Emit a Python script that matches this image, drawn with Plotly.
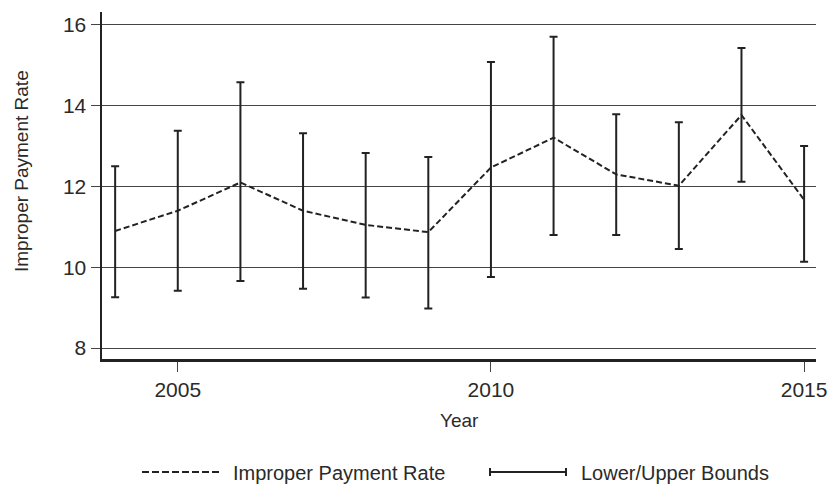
import plotly.graph_objects as go

years = [2004, 2005, 2006, 2007, 2008, 2009, 2010, 2011, 2012, 2013, 2014, 2015]
rate = [10.90, 11.40, 12.10, 11.40, 11.05, 10.87, 12.47, 13.21, 12.30, 12.02, 13.77, 11.67]
upper = [12.50, 13.38, 14.58, 13.32, 12.83, 12.73, 15.08, 15.71, 13.79, 13.59, 15.43, 13.00]
lower = [9.26, 9.42, 9.66, 9.47, 9.25, 8.98, 9.76, 10.80, 10.80, 10.45, 12.12, 10.14]

x_ticks = [2005, 2010, 2015]
y_ticks = [8, 10, 12, 14, 16]

FONT = "Liberation Sans, Arial, sans-serif"
INK = "#222222"
TXT = "#2a2a2a"

err_plus = [u - r for u, r in zip(upper, rate)]
err_minus = [r - l for r, l in zip(rate, lower)]

fig = go.Figure()
fig.add_trace(go.Scatter(
    x=years, y=rate, mode="markers", name="Lower/Upper Bounds",
    marker=dict(size=0.1, color="rgba(0,0,0,0)"),
    error_y=dict(type="data", symmetric=False, array=err_plus, arrayminus=err_minus,
                 color=INK, thickness=2, width=4),
    showlegend=False, hoverinfo="skip",
))
fig.add_trace(go.Scatter(
    x=years, y=rate, mode="lines", name="Improper Payment Rate",
    line=dict(color=INK, width=2, dash="6px,3px"),
    showlegend=False, hoverinfo="skip",
))

# plot area in window pixels: x 102..816, y 12..359 (body margin removed below)
L, R, T, B = 102, 816, 12, 359
FW, FH = 830, 485

def px(x):
    return (x - L) / (R - L)

def py(y):
    return (B - y) / (B - T)

legend_y = 472
shapes = [
    dict(type="line", xref="paper", yref="paper", x0=px(142), x1=px(220), y0=py(legend_y), y1=py(legend_y),
         line=dict(color=INK, width=1.8, dash="7px,3px")),
    dict(type="line", xref="paper", yref="paper", x0=px(490), x1=px(566), y0=py(legend_y), y1=py(legend_y),
         line=dict(color=INK, width=2)),
    dict(type="line", xref="paper", yref="paper", x0=px(490), x1=px(490), y0=py(legend_y - 4), y1=py(legend_y + 4),
         line=dict(color=INK, width=2)),
    dict(type="line", xref="paper", yref="paper", x0=px(566), x1=px(566), y0=py(legend_y - 4), y1=py(legend_y + 4),
         line=dict(color=INK, width=2)),
]
annotations = [
    dict(text="Improper Payment Rate", xref="paper", yref="paper", x=px(231), y=py(legend_y + 1),
         xanchor="left", yanchor="middle", showarrow=False, font=dict(size=20, color=TXT, family=FONT)),
    dict(text="Lower/Upper Bounds", xref="paper", yref="paper", x=px(579), y=py(legend_y + 1),
         xanchor="left", yanchor="middle", showarrow=False, font=dict(size=20, color=TXT, family=FONT)),
    dict(text="Year", xref="paper", yref="paper", x=px(459), y=py(420),
         xanchor="center", yanchor="middle", showarrow=False, font=dict(size=19, color=TXT, family=FONT)),
    dict(text="Improper Payment Rate", xref="paper", yref="paper", x=px(21), y=py(171), textangle=-90,
         xanchor="center", yanchor="middle", showarrow=False, font=dict(size=19, color=TXT, family=FONT)),
]

fig.update_layout(
    width=FW, height=FH, autosize=False,
    margin=dict(l=L, r=FW - R, t=T, b=FH - B, pad=0, autoexpand=False),
    paper_bgcolor="white", plot_bgcolor="white",
    font=dict(family=FONT, size=21, color=TXT),
    shapes=shapes, annotations=annotations,
    showlegend=False,
)
fig.update_xaxes(
    range=[2003.79, 2015.19], tickvals=x_ticks, ticktext=[str(v) for v in x_ticks],
    showgrid=False, zeroline=False, automargin=False,
    showline=True, linecolor=INK, linewidth=3,
    ticks="outside", ticklen=10, tickcolor="#444", tickwidth=1,
    tickfont=dict(size=21), ticklabeloverflow="allow",
)
fig.update_yaxes(
    range=[7.73, 16.32], tickvals=y_ticks, ticktext=[str(v) for v in y_ticks],
    showgrid=True, gridcolor="#444", gridwidth=1, zeroline=False, automargin=False,
    showline=True, linecolor=INK, linewidth=2.5,
    ticks="outside", ticklen=9, tickcolor="#444", tickwidth=1,
    tickfont=dict(size=21),
)

fig.write_html(
    "out.html",
    config={"displayModeBar": False, "staticPlot": True},
    post_script="document.body.style.margin='0';document.body.style.overflow='hidden';",
)
